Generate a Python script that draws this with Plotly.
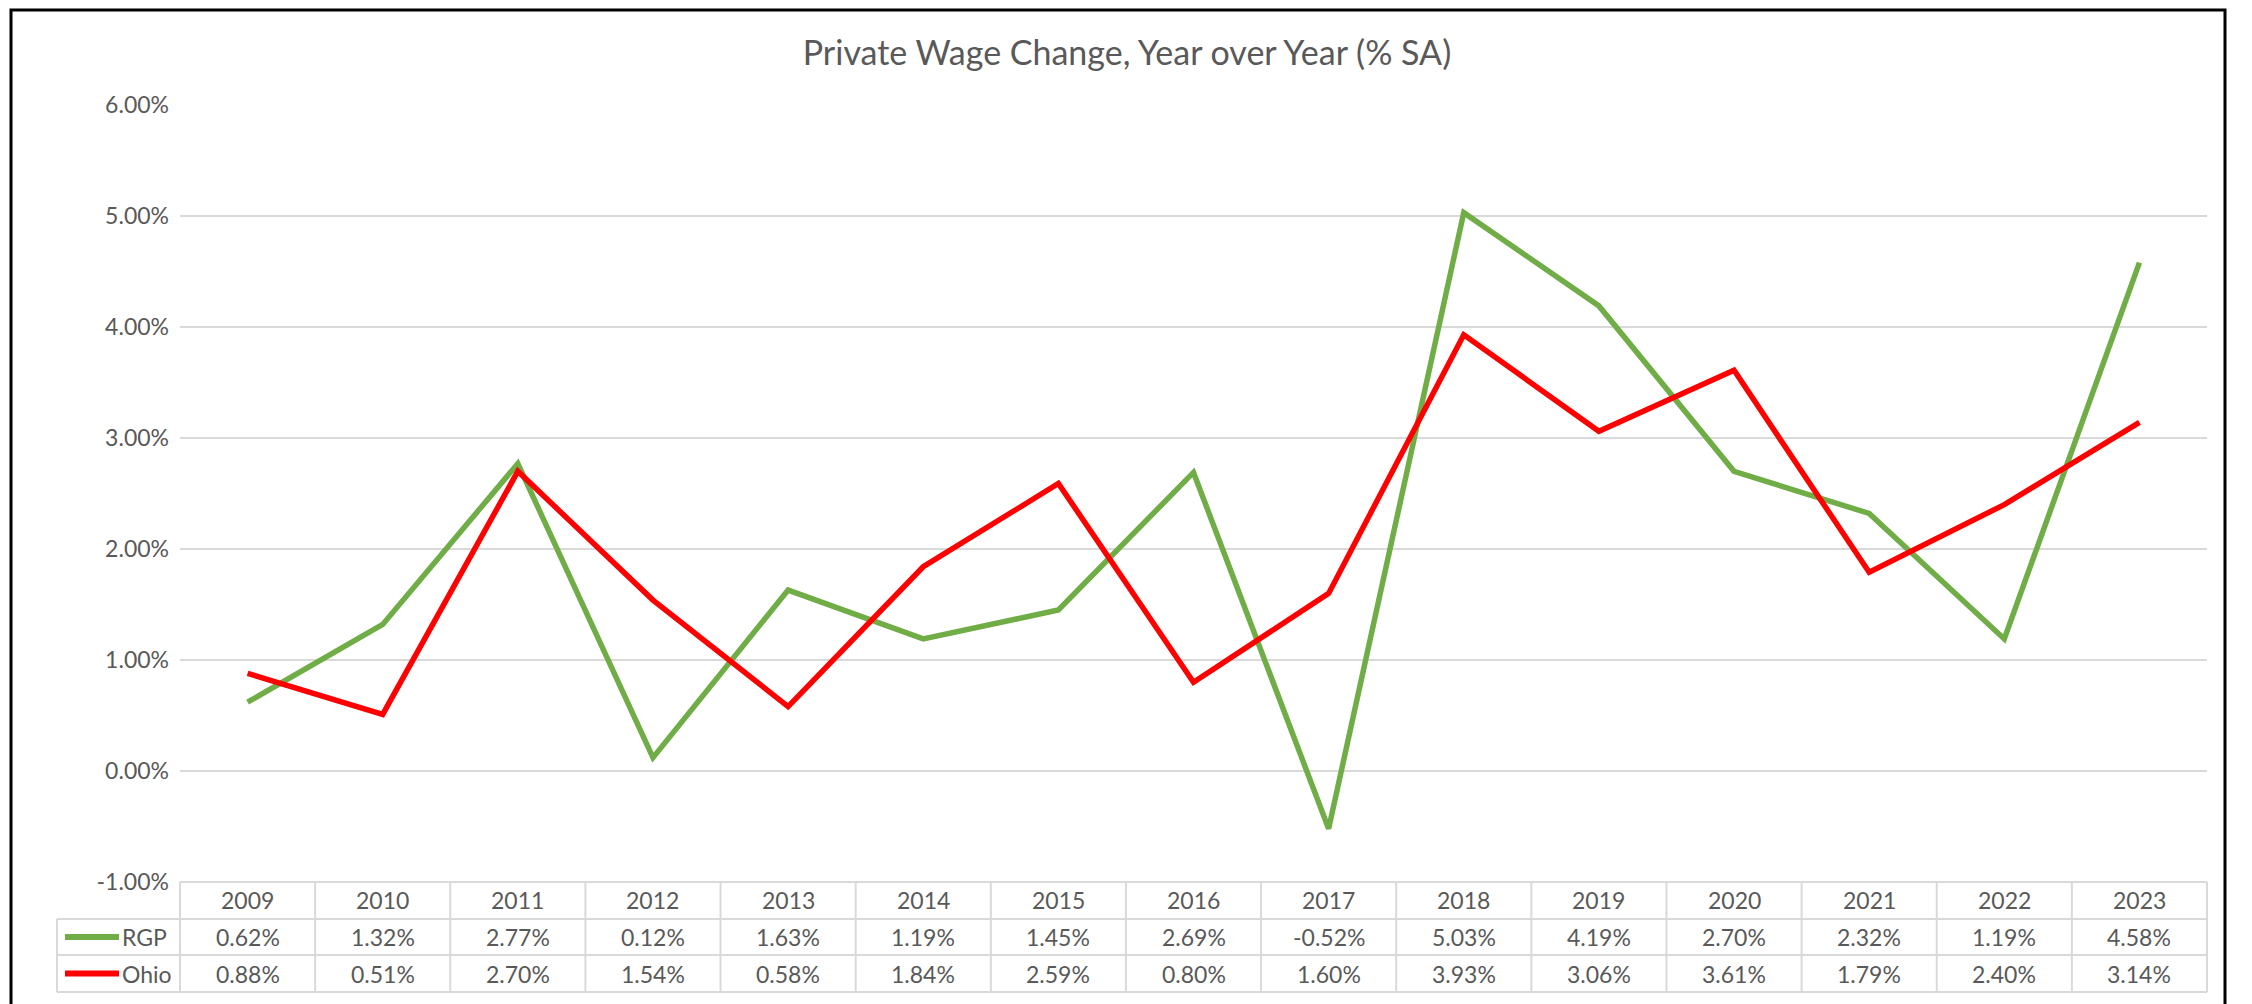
"""Private wage change YoY line chart with an Excel-style data table underneath."""

import plotly.graph_objects as go

YEARS = list(range(2009, 2024))
RGP = [0.62, 1.32, 2.77, 0.12, 1.63, 1.19, 1.45, 2.69, -0.52, 5.03, 4.19, 2.70, 2.32, 1.19, 4.58]
OHIO = [0.88, 0.51, 2.70, 1.54, 0.58, 1.84, 2.59, 0.80, 1.60, 3.93, 3.06, 3.61, 1.79, 2.40, 3.14]
Y_TICKS = [-1, 0, 1, 2, 3, 4, 5, 6]
TITLE = "Private Wage Change, Year over Year (% SA)"

SERIES = [("RGP", RGP, "#70AD47"), ("Ohio", OHIO, "#FF0000")]

# the page body keeps its default 8px margin, so the figure is shrunk by that much
OFF = 8
W, H = 2252 - OFF, 1004 - OFF
# screen-pixel layout of the plot area
PLOT_L, PLOT_R, PLOT_T, PLOT_B = 180, 2207, 105, 882
FONT = "Lato, 'Open Sans', sans-serif"
TEXT_COLOR = "#595959"
GRID = "#D9D9D9"
FS = 23

PLOT_W = PLOT_R - PLOT_L
PLOT_H = PLOT_B - PLOT_T


def px_x(x):
    return (x - PLOT_L) / PLOT_W


def px_y(y):
    return (PLOT_B - y) / PLOT_H


fig = go.Figure()

for name, values, color in SERIES:
    fig.add_trace(
        go.Scatter(
            x=YEARS,
            y=values,
            name=name,
            mode="lines",
            line=dict(color=color, width=5.5),
            hovertemplate="%{x}: %{y:.2f}%<extra>" + name + "</extra>",
        )
    )

shapes = []
annotations = []
cell_font = dict(family=FONT, size=FS, color=TEXT_COLOR)

# table rows (screen pixels below the plot area)
row_edges = [882, 919, 955, 992]
row_mid = [(row_edges[i] + row_edges[i + 1]) / 2 for i in range(3)]
legend_left = 57

# horizontal table lines
shapes.append(dict(type="line", xref="paper", yref="paper", x0=0, x1=1,
                   y0=px_y(row_edges[0]), y1=px_y(row_edges[0]),
                   line=dict(color=GRID, width=2)))
for ye in row_edges[1:]:
    shapes.append(dict(type="line", xref="paper", yref="paper",
                       x0=px_x(legend_left), x1=1, y0=px_y(ye), y1=px_y(ye),
                       line=dict(color=GRID, width=2)))

# vertical table lines between years
for yr in YEARS[1:]:
    shapes.append(dict(type="line", xref="x", yref="paper", x0=yr - 0.5, x1=yr - 0.5,
                       y0=px_y(row_edges[0]), y1=px_y(row_edges[-1]),
                       line=dict(color=GRID, width=2)))
for xe in (0, 1):
    shapes.append(dict(type="line", xref="paper", yref="paper", x0=xe, x1=xe,
                       y0=px_y(row_edges[0]), y1=px_y(row_edges[-1]),
                       line=dict(color=GRID, width=2)))
shapes.append(dict(type="line", xref="paper", yref="paper",
                   x0=px_x(legend_left), x1=px_x(legend_left),
                   y0=px_y(row_edges[1]), y1=px_y(row_edges[-1]),
                   line=dict(color=GRID, width=2)))

# header years
for yr in YEARS:
    annotations.append(dict(x=yr, y=px_y(row_mid[0]), xref="x", yref="paper",
                            text=str(yr), showarrow=False, yanchor="middle",
                            font=cell_font))

# series rows with legend keys
for i, (name, values, color) in enumerate(SERIES):
    ym = px_y(row_mid[i + 1])
    shapes.append(dict(type="line", xref="paper", yref="paper",
                       x0=px_x(65), x1=px_x(119), y0=ym, y1=ym,
                       line=dict(color=color, width=6)))
    annotations.append(dict(x=px_x(120), y=ym, xref="paper", yref="paper",
                            text=name, showarrow=False, xanchor="left", yanchor="middle",
                            font=cell_font))
    for yr, v in zip(YEARS, values):
        annotations.append(dict(x=yr, y=ym, xref="x", yref="paper",
                                text=f"{v:.2f}%", showarrow=False, yanchor="middle",
                                font=cell_font))

# chart frame (top edge kept inside the figure, below the body margin)
shapes.append(dict(type="rect", xref="paper", yref="paper",
                   x0=px_x(11), x1=px_x(2225), y0=px_y(10), y1=px_y(1015),
                   line=dict(color="black", width=3), layer="above"))

fig.update_layout(
    width=W,
    height=H,
    margin=dict(l=PLOT_L - OFF, r=W - (PLOT_R - OFF), t=PLOT_T - OFF, b=H - (PLOT_B - OFF), pad=0),
    paper_bgcolor="white",
    plot_bgcolor="white",
    showlegend=False,
    title=dict(text=TITLE, x=(1127 - OFF) / W, xanchor="center",
               y=1 - (53 - OFF) / H, yanchor="middle",
               font=dict(family=FONT, size=34, color=TEXT_COLOR)),
    xaxis=dict(range=[YEARS[0] - 0.5, YEARS[-1] + 0.5], showticklabels=False,
               showgrid=False, zeroline=False, showline=False, ticks=""),
    yaxis=dict(range=[Y_TICKS[0], Y_TICKS[-1]], tickvals=Y_TICKS,
               ticktext=[f"{v:.2f}%" for v in Y_TICKS],
               showgrid=True, gridcolor=GRID, gridwidth=1.5, zeroline=False,
               showline=False, ticks="", ticklabelstandoff=10,
               tickfont=dict(family=FONT, size=FS, color=TEXT_COLOR)),
    shapes=shapes,
    annotations=annotations,
)

fig.write_html("out.html")
